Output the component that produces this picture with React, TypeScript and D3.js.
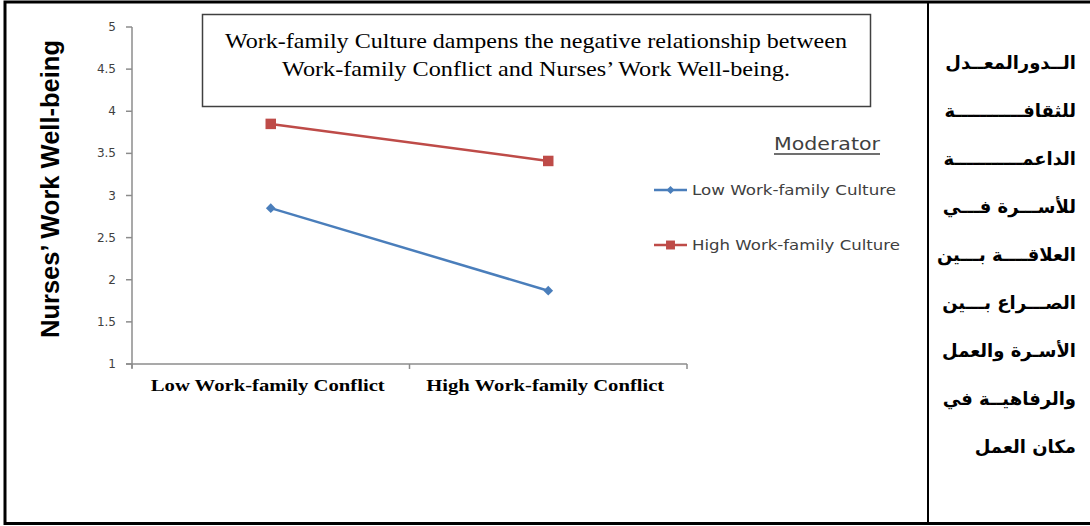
import React from "react";
import * as d3 from "d3";

const categories = ["Low Work-family Conflict", "High Work-family Conflict"];
const lowCulture = [2.85, 1.87];
const highCulture = [3.85, 3.41];
const yTicks = [1, 1.5, 2, 2.5, 3, 3.5, 4, 4.5, 5];
const seriesNames = ["Low Work-family Culture", "High Work-family Culture"];
const titleLines = [
  "Work-family Culture dampens the negative relationship between",
  "Work-family Conflict and Nurses’ Work Well-being.",
];
const arabicLines = [
  "الــدورالمعــدل",
  "للثقافـــــــــــة",
  "الداعمـــــــــــة",
  "للأســـرة فـــي",
  "العلاقــــة بـــين",
  "الصـــراع بـــين",
  "الأسـرة والعمل",
  "والرفاهيــة في",
  "مكان العمل",
];

const BLUE = "#4A7EBB";
const RED = "#BE4B48";
const SANS = "'DejaVu Sans', Verdana, sans-serif";
const SERIF = "'Liberation Serif', 'Times New Roman', serif";

export default function App() {
  const x = d3.scaleBand<string>().domain(categories).range([132, 687]);
  const y = d3.scaleLinear().domain([1, 5]).range([364, 27]);
  const cx = (i: number) => (x(categories[i]) as number) + x.bandwidth() / 2;
  const line = d3
    .line<number>()
    .x((_, i) => cx(i))
    .y((d) => y(d));
  const diamond = d3.symbol().type(d3.symbolDiamond2).size(60)();
  const square = d3.symbol().type(d3.symbolSquare).size(110)();
  const bandEdges = [...categories.map((c) => x(c) as number), x.range()[1]];
  const xLabelLen = [234, 238];
  const titleLen = [622, 508];
  const legendLen = [204, 208];

  return (
    <svg
      width={1090}
      height={526}
      style={{ position: "absolute", left: 0, top: 0, background: "#fff" }}
    >
      {/* outer frame */}
      <rect x={5} y={2} width={1100} height={521.5} fill="none" stroke="#000" strokeWidth={3} />
      <line x1={928} x2={928} y1={2} y2={524} stroke="#000" strokeWidth={2} />

      {/* title box */}
      <rect x={202.5} y={14.5} width={668} height={92} fill="#fff" stroke="#404040" strokeWidth={1.5} />
      {titleLines.map((t, i) => (
        <text
          key={i}
          x={536}
          y={48 + i * 28}
          textAnchor="middle"
          fontFamily={SERIF}
          fontSize={21}
          textLength={titleLen[i]}
          lengthAdjust="spacingAndGlyphs"
          fill="#000"
        >
          {t}
        </text>
      ))}

      {/* y axis title */}
      <text
        transform={`translate(59, 189) rotate(-90)`}
        textAnchor="middle"
        fontFamily="'Liberation Sans', Arial, sans-serif"
        fontWeight="bold"
        fontSize={25}
        textLength={298}
        lengthAdjust="spacingAndGlyphs"
        fill="#000"
      >
        Nurses’ Work Well-being
      </text>

      {/* y axis */}
      <line x1={132} x2={132} y1={y(5)} y2={y(1) + 4} stroke="#8c8c8c" strokeWidth={1.5} />
      {yTicks.map((t) => (
        <g key={t}>
          <line x1={126} x2={132} y1={y(t)} y2={y(t)} stroke="#8c8c8c" strokeWidth={1.5} />
          <text
            x={116}
            y={y(t) + 4}
            textAnchor="end"
            fontFamily={SANS}
            fontSize={12}
            fill="#404040"
          >
            {t}
          </text>
        </g>
      ))}

      {/* x axis */}
      <line x1={126} x2={x.range()[1]} y1={y(1)} y2={y(1)} stroke="#8c8c8c" strokeWidth={1.5} />
      {bandEdges.map((e, i) => (
        <line key={i} x1={e} x2={e} y1={y(1)} y2={y(1) + 5} stroke="#8c8c8c" strokeWidth={1.5} />
      ))}
      {categories.map((c, i) => (
        <text
          key={c}
          x={cx(i) - 3}
          y={391}
          textAnchor="middle"
          fontFamily={SERIF}
          fontWeight="bold"
          fontSize={17.5}
          textLength={xLabelLen[i]}
          lengthAdjust="spacingAndGlyphs"
          fill="#000"
        >
          {c}
        </text>
      ))}

      {/* series */}
      <path d={line(highCulture) || ""} fill="none" stroke={RED} strokeWidth={2.5} />
      <path d={line(lowCulture) || ""} fill="none" stroke={BLUE} strokeWidth={2.5} />
      {highCulture.map((v, i) => (
        <path key={"h" + i} d={square || ""} transform={`translate(${cx(i)},${y(v)})`} fill={RED} />
      ))}
      {lowCulture.map((v, i) => (
        <path key={"l" + i} d={diamond || ""} transform={`translate(${cx(i)},${y(v)})`} fill={BLUE} />
      ))}

      {/* legend */}
      <text
        x={827}
        y={150}
        textAnchor="middle"
        fontFamily={SANS}
        fontSize={17}
        textLength={106}
        lengthAdjust="spacingAndGlyphs"
        fill="#404040"
      >
        Moderator
      </text>
      <line x1={774} x2={880} y1={154} y2={154} stroke="#404040" strokeWidth={1.3} />
      {seriesNames.map((s, i) => {
        const ly = 190 + i * 55;
        return (
          <g key={s}>
            <line x1={654} x2={687} y1={ly} y2={ly} stroke={i === 0 ? BLUE : RED} strokeWidth={2.5} />
            <path
              d={(i === 0 ? d3.symbol().type(d3.symbolDiamond2).size(40)() : d3.symbol().type(d3.symbolSquare).size(80)()) || ""}
              transform={`translate(670.5,${ly})`}
              fill={i === 0 ? BLUE : RED}
            />
            <text
              x={692}
              y={ly + 5}
              fontFamily={SANS}
              fontSize={14.5}
              textLength={legendLen[i]}
              lengthAdjust="spacingAndGlyphs"
              fill="#404040"
            >
              {s}
            </text>
          </g>
        );
      })}

      {/* Arabic side text */}
      {arabicLines.map((t, i) => (
        <text
          key={i}
          x={1076}
          y={69 + i * 48}
          textAnchor="end"
          fontFamily="'DejaVu Sans', sans-serif"
          fontWeight="bold"
          fontSize={18}
          fill="#000"
        >
          {t}
        </text>
      ))}
    </svg>
  );
}
